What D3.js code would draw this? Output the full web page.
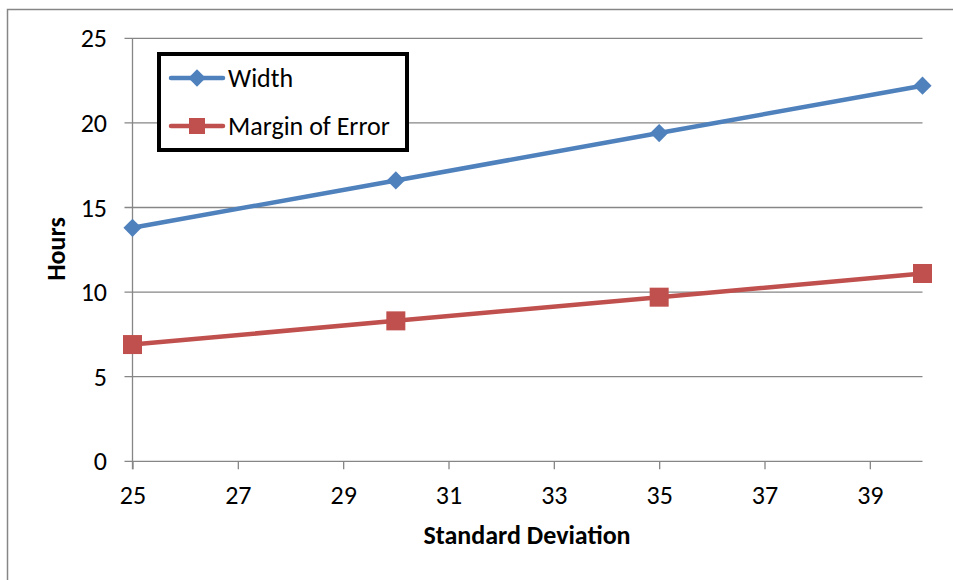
<!DOCTYPE html>
<meta charset="utf-8">
<style>

body {
  margin: 0;
  background: #fff;
}

text {
  font-family: Carlito, "Open Sans", "Noto Sans", sans-serif;
  fill: #000;
}

.grid line {
  stroke: #868686;
  stroke-width: 1.3px;
}

.axis path,
.axis line {
  stroke: #868686;
  stroke-width: 1.3px;
  fill: none;
}

.series {
  fill: none;
  stroke-width: 4.5px;
  stroke-linejoin: round;
}

</style>
<svg width="953" height="580"></svg>
<script src="https://d3js.org/d3.v7.min.js"></script>
<script>

var stdDev = [25, 30, 35, 40],
    widthHours = [13.8, 16.6, 19.4, 22.2],
    marginHours = [6.9, 8.3, 9.7, 11.1];

var xTicks = [25, 27, 29, 31, 33, 35, 37, 39],
    yTicks = [0, 5, 10, 15, 20, 25];

var seriesNames = ["Width", "Margin of Error"],
    seriesColors = ["#4F81BD", "#C0504D"];

var fontSize = "26px";

var svg = d3.select("svg");

// outer chart border (cut off right and bottom)
svg.append("rect")
    .attr("x", 7.5)
    .attr("y", 9.5)
    .attr("width", 960)
    .attr("height", 600)
    .attr("fill", "none")
    .attr("stroke", "#868686")
    .attr("stroke-width", 1.5);

var x = d3.scaleLinear()
    .domain([25, 40])
    .range([132.5, 922.5]);

var y = d3.scaleLinear()
    .domain([0, 25])
    .range([461.3, 38.3]);

// horizontal gridlines with left-side tick marks
svg.append("g")
    .attr("class", "grid")
  .selectAll("line")
  .data(yTicks)
  .enter().append("line")
    .attr("x1", x(25) - 8)
    .attr("x2", x(40))
    .attr("y1", function(d) { return y(d); })
    .attr("y2", function(d) { return y(d); });

svg.append("line")
    .attr("x1", x(25)).attr("x2", x(25))
    .attr("y1", y(25)).attr("y2", y(0) + 8)
    .attr("stroke", "#868686")
    .attr("stroke-width", 1.3);

var xAxis = svg.append("g")
    .attr("class", "axis")
    .attr("transform", "translate(0," + y(0) + ")")
    .call(d3.axisBottom(x).tickValues(xTicks).tickSize(8).tickSizeOuter(0));

xAxis.select(".domain").remove();
xAxis.selectAll("text")
    .attr("y", 34)
    .attr("dy", "0.35em")
    .style("font-size", fontSize);

svg.selectAll(".ylabel")
  .data(yTicks)
  .enter().append("text")
    .attr("class", "ylabel")
    .attr("x", 107)
    .attr("y", function(d) { return y(d); })
    .attr("dy", "0.35em")
    .attr("text-anchor", "end")
    .style("font-size", fontSize)
    .text(function(d) { return d; });

// axis titles
svg.append("text")
    .attr("x", 527)
    .attr("y", 544)
    .attr("text-anchor", "middle")
    .style("font-size", fontSize)
    .style("font-weight", "bold")
    .text("Standard Deviation");

svg.append("text")
    .attr("transform", "translate(65,249) rotate(-90)")
    .attr("text-anchor", "middle")
    .style("font-size", fontSize)
    .style("font-weight", "bold")
    .text("Hours");

var line = d3.line()
    .x(function(d) { return x(d[0]); })
    .y(function(d) { return y(d[1]); });

var series = [widthHours, marginHours].map(function(vals) {
  return stdDev.map(function(s, i) { return [s, vals[i]]; });
});

svg.selectAll(".series")
  .data(series)
  .enter().append("path")
    .attr("class", "series")
    .attr("stroke", function(d, i) { return seriesColors[i]; })
    .attr("d", line);

var diamond = d3.symbol().type(d3.symbolSquare).size(165);

svg.append("g").selectAll("path")
  .data(series[0])
  .enter().append("path")
    .attr("d", diamond)
    .attr("fill", seriesColors[0])
    .attr("transform", function(d) { return "translate(" + x(d[0]) + "," + y(d[1]) + ") rotate(45)"; });

svg.append("g").selectAll("rect")
  .data(series[1])
  .enter().append("rect")
    .attr("x", function(d) { return x(d[0]) - 9.5; })
    .attr("y", function(d) { return y(d[1]) - 9.5; })
    .attr("width", 19)
    .attr("height", 19)
    .attr("fill", seriesColors[1]);

// legend
var legend = svg.append("g");

legend.append("rect")
    .attr("x", 159)
    .attr("y", 54)
    .attr("width", 248)
    .attr("height", 96)
    .attr("fill", "#fff")
    .attr("stroke", "#000")
    .attr("stroke-width", 4);

var item = legend.selectAll(".item")
  .data(seriesNames)
  .enter().append("g")
    .attr("transform", function(d, i) { return "translate(0," + (78 + i * 48) + ")"; });

item.append("line")
    .attr("x1", 171)
    .attr("x2", 223)
    .attr("stroke", function(d, i) { return seriesColors[i]; })
    .attr("stroke-width", 4.5)
    .attr("stroke-linecap", "round");

item.append("path")
    .attr("d", function(d, i) {
      return i === 0 ? d3.symbol().type(d3.symbolSquare).size(150)() : "M-8,-8H8V8H-8Z";
    })
    .attr("transform", function(d, i) { return "translate(197,0)" + (i === 0 ? " rotate(45)" : ""); })
    .attr("fill", function(d, i) { return seriesColors[i]; });

item.append("text")
    .attr("x", 228)
    .attr("dy", "0.35em")
    .style("font-size", fontSize)
    .text(function(d) { return d; });

</script>
